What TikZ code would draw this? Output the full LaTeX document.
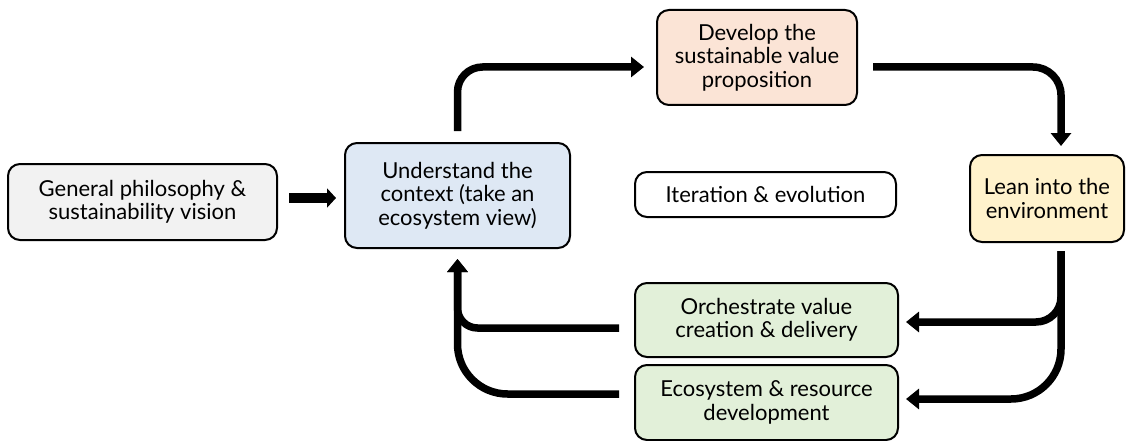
\documentclass[tikz,border=0pt]{standalone}
\usepackage{fontspec}
\setmainfont{Lato}
\usetikzlibrary{arrows.meta}
\definecolor{genfill}{HTML}{F2F2F2}
\definecolor{ctxfill}{HTML}{DEE8F4}
\definecolor{devfill}{HTML}{FBE4D6}
\definecolor{leanfill}{HTML}{FFF2CC}
\definecolor{orchfill}{HTML}{E2F0D9}

\begin{document}
\begin{tikzpicture}[x=1pt,y=-1pt]
    \useasboundingbox (0,0) rectangle (1126,441);

    \begin{scope}[every node/.style={draw,line width=2pt,rounded corners=12pt,align=center,
        font=\fontsize{22}{23.5}\selectfont}]
      \node[fill=genfill,minimum width=269,minimum height=76] (gen) at (142.5,202) {General philosophy \&\\sustainability vision};
      \node[fill=ctxfill,minimum width=225,minimum height=105] (ctx) at (457.5,195.5) {Understand the\\context (take an\\ecosystem view)};
      \node[fill=devfill,minimum width=200,minimum height=95] (dev) at (757,57.5) {Develop the\\sustainable value\\proposition};
      \node[fill=white,minimum width=261,minimum height=45] (iter) at (765.5,194.5) {Iteration \& evolution};
      \node[fill=leanfill,minimum width=154,minimum height=87] (lean) at (1047,198.5) {Lean into the\\environment};
      \node[fill=orchfill,minimum width=263,minimum height=74] (orch) at (766.5,320) {Orchestrate value\\creation \& delivery};
      \node[fill=orchfill,minimum width=263,minimum height=75] (eco) at (766.5,402.5) {Ecosystem \& resource\\development};
    \end{scope}

    \begin{scope}[>={Triangle[length=13pt,width=20pt]},
        every path/.style={draw=black,line width=7.5pt}]
      \path [->,line width=10pt,>={Triangle[length=9pt,width=19pt]}] ([xshift=11pt,yshift=4pt]gen.east) -- ([xshift=-8pt,yshift=4pt]gen.east -| ctx.west);
      \path [->,rounded corners=25pt] ([yshift=11pt]ctx.north) |- ([xshift=-12pt,yshift=-9.5pt]dev.west);
      \path [->,rounded corners=28pt] ([xshift=15pt,yshift=-9.5pt]dev.east) -| ([xshift=14pt,yshift=8pt]lean.north);
      \path [->,rounded corners=25pt] ([xshift=14pt,yshift=-8pt]lean.south) |- ([xshift=7pt,yshift=-2pt]orch.east);
      \path [->,rounded corners=50pt] ([xshift=14pt,yshift=-8pt]lean.south) |- ([xshift=7pt,yshift=3.5pt]eco.east);
      \path [->,rounded corners=20pt] ([xshift=-15pt,yshift=-8pt]orch.west) -| ([yshift=-10pt]ctx.south);
      \path [->,rounded corners=50pt] ([xshift=-15pt,yshift=8.5pt]eco.west) -| ([yshift=-10pt]ctx.south);
    \end{scope}
\end{tikzpicture}
\end{document}
